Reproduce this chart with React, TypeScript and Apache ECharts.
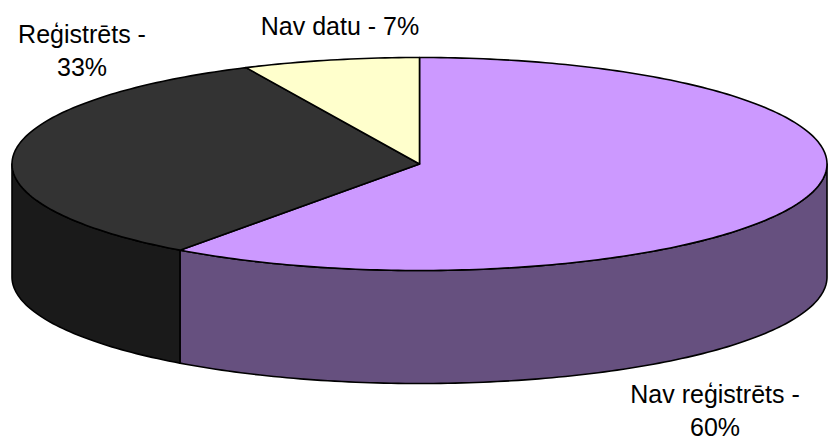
import React, { useEffect, useRef } from "react";
import * as echarts from "echarts";

const categories = ["Nav reģistrēts", "Reģistrēts", "Nav datu"];
const values = [60, 33, 7];
const topColors = ["#CC99FF", "#333333", "#FFFFCC"];
const sideColors = ["#66507F", "#1A1A1A", "#80805F"];
const labelTexts = ["Nav reģistrēts -\n60%", "Reģistrēts -\n33%", "Nav datu - 7%"];
const labelX = [715, 82, 340];
const labelTops = [377, 17, 9];

const CX = 419.5, CY = 164, RX = 407.5, RY = 106.5, DEPTH = 113;
const total = values.reduce((a, b) => a + b, 0);

const px = (t: number) => CX + RX * Math.sin(t);
const py = (t: number) => CY - RY * Math.cos(t);

function arcPts(a: number, b: number, dy: number) {
  const pts: number[][] = [];
  const n = Math.max(2, Math.ceil(((b - a) / (2 * Math.PI)) * 360));
  for (let i = 0; i <= n; i++) {
    const t = a + ((b - a) * i) / n;
    pts.push([px(t), py(t) + dy]);
  }
  return pts;
}

// visible wall: parametric angles between 90° and 270° from the top
function wallRange(a: number, b: number) {
  const lo = Math.max(a, Math.PI / 2);
  const hi = Math.min(b, (3 * Math.PI) / 2);
  return lo < hi ? [lo, hi] : null;
}

export default function App() {
  const ref = useRef<HTMLDivElement>(null);
  useEffect(() => {
    const chart = echarts.init(ref.current!, undefined, { renderer: "svg" });
    let acc = 0;
    const rows = values.map((v, i) => {
      const start = (acc / total) * 2 * Math.PI;
      acc += v;
      return [start, (acc / total) * 2 * Math.PI, i];
    });
    const line = { stroke: "#000", lineWidth: 1.6, lineJoin: "round" as const };
    chart.setOption({
      animation: false,
      backgroundColor: "#fff",
      series: [
        {
          type: "custom",
          coordinateSystem: "none",
          data: rows,
          silent: true,
          renderItem: (_p: any, api: any) => {
            const a = api.value(0), b = api.value(1), i = api.value(2);
            const children: any[] = [];
            const w = wallRange(a, b);
            if (w) {
              const top = arcPts(w[0], w[1], 0);
              const bottom = arcPts(w[0], w[1], DEPTH).reverse();
              children.push({
                type: "polygon",
                shape: { points: [...top, ...bottom] },
                style: { fill: sideColors[i], ...line },
              });
            }
            children.push({
              type: "polygon",
              shape: { points: [[CX, CY], ...arcPts(a, b, 0)] },
              style: { fill: topColors[i], ...line },
            });
            return { type: "group", children };
          },
        },
      ],
      graphic: labelTexts.map((text, i) => ({
        type: "text",
        x: labelX[i],
        y: labelTops[i],
        style: {
          text,
          fill: "#000",
          font: '25px "Liberation Sans", Arial, sans-serif',
          align: "center",
          verticalAlign: "top",
          lineHeight: 33.5,
        },
      })),
    });
    return () => chart.dispose();
  }, []);
  return (
    <div
      ref={ref}
      aria-label={categories.join(", ")}
      style={{ position: "fixed", left: 0, top: 0, width: 829, height: 437 }}
    />
  );
}
